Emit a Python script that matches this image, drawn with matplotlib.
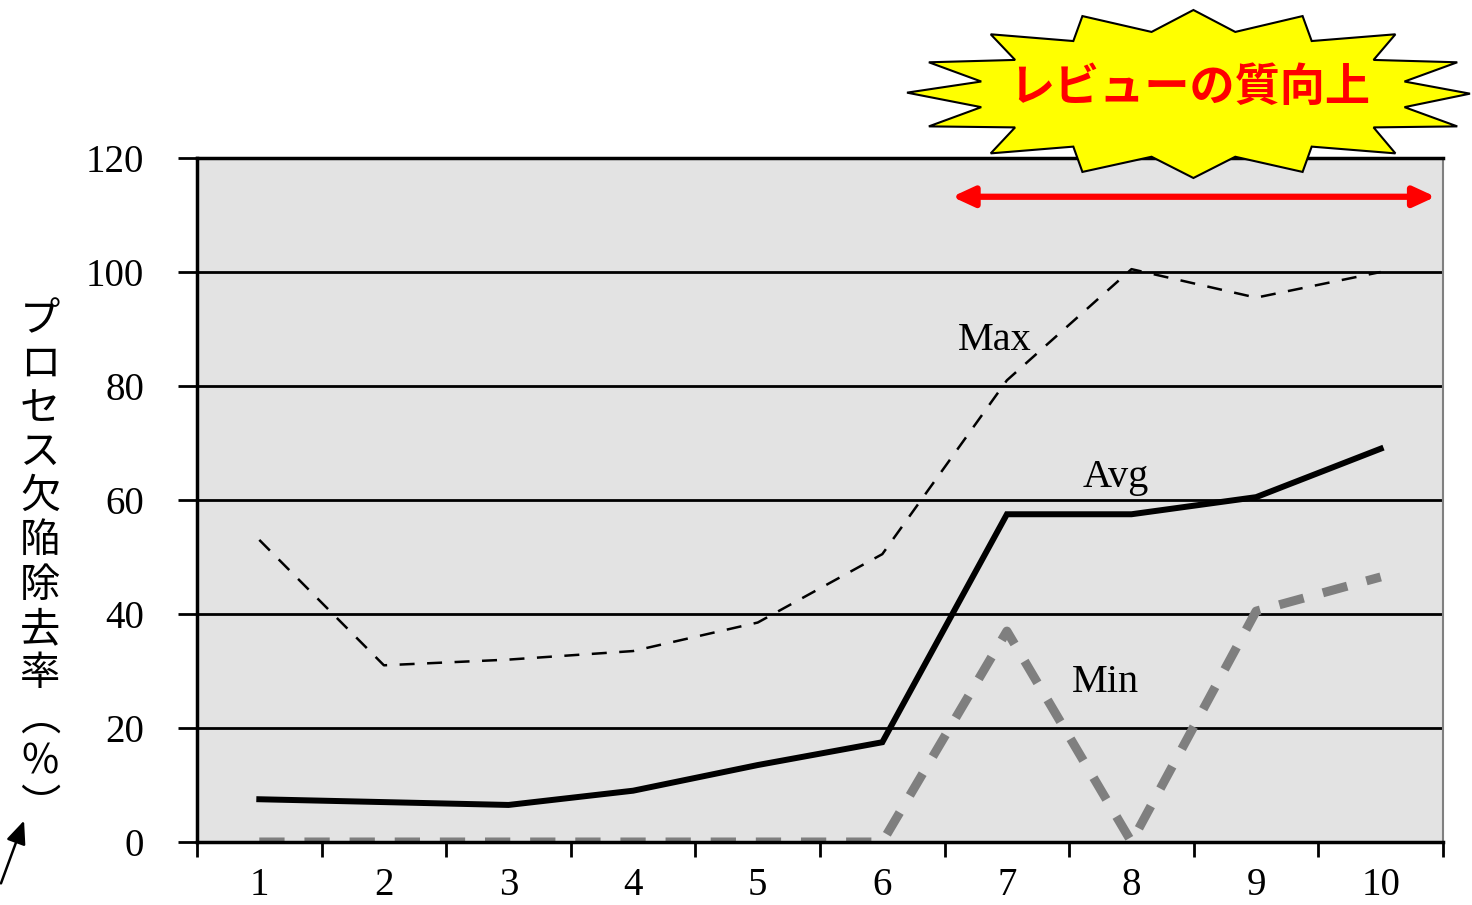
import matplotlib
matplotlib.use('Agg')
import matplotlib.pyplot as plt
from matplotlib.patches import Polygon
import numpy as np

# data
cats = ['1','2','3','4','5','6','7','8','9','10']
max_v = [53, 31, 32, 33.5, 38.5, 50.5, 81, 100.5, 95.5, 100]
avg_v = [7.5, 7, 6.5, 9, 13.5, 17.5, 57.5, 57.5, 60.5, 69]
min_v = [0, 0, 0, 0, 0, 0, 37, 0, 40.5, 46.5]
yticks = [0, 20, 40, 60, 80, 100, 120]
ylabel_chars = ['プ','ロ','セ','ス','欠','陥','除','去','率','︵','%','︶']
banner = 'レビューの質向上'

W, H = 1472, 905
fig = plt.figure(figsize=(W/100, H/100), dpi=100)
ax = fig.add_axes([197/W, 1-842/H, (1443-197)/W, (842-158)/H])
ax.set_facecolor('#e3e3e3')

x = np.arange(1, len(cats)+1)
ax.plot(x, max_v, color='black', lw=1.8, dashes=(6, 5))
ax.plot(x, avg_v, color='black', lw=4.3, solid_joinstyle='miter')
ax.plot(x, min_v, color='#7f7f7f', lw=6.5, dashes=(2.8, 2.2))

ax.set_xlim(0.5, len(cats)+0.5)
ax.set_ylim(0, 120)
for v in yticks[1:-1]:
    ax.axhline(v, color='black', lw=2, zorder=1)

serif = 'Liberation Serif'
ax.set_yticks(yticks)
ax.set_yticklabels([str(v) for v in yticks], family=serif, fontsize=28)
ax.tick_params(axis='y', direction='out', length=14, width=2, pad=24)
ax.set_xticks(np.arange(0.5, len(cats)+1, 1))
ax.set_xticklabels([])
ax.tick_params(axis='x', which='major', direction='out', length=11, width=2)
ax.set_xticks(x, minor=True)
ax.set_xticklabels(cats, minor=True, family=serif, fontsize=28)
ax.tick_params(axis='x', which='minor', length=0, pad=18)

for s in ['left', 'bottom', 'top']:
    ax.spines[s].set_linewidth(2.5)
    ax.spines[s].set_color('black')
ax.spines['right'].set_color('#808080')
ax.spines['right'].set_linewidth(1.5)

ax.text(6.9, 88, 'Max', family=serif, fontsize=29, ha='center', va='center')
ax.text(7.87, 64, 'Avg', family=serif, fontsize=29, ha='center', va='center')
ax.text(7.79, 28, 'Min', family=serif, fontsize=29, ha='center', va='center')

# red double arrow
ax.annotate('', xy=(10.44, 113.2), xytext=(6.56, 113.2),
            arrowprops=dict(arrowstyle='<|-|>,head_length=1.3,head_width=0.6',
                            color='red', lw=4.5, shrinkA=0, shrinkB=0),
            annotation_clip=False)

# starburst
zp = [(805,30),(920,95),(1105,48),(1130,122),(1360,102),(1300,178),(1530,185),
      (1385,242),(1565,278),(1385,318),(1530,375),(1300,378),(1360,455),(1130,435),
      (1105,510),(920,465),(805,528),(690,465),(500,510),(475,435),(248,455),
      (315,378),(78,375),(222,318),(18,275),(222,242),(78,185),(315,178),
      (248,102),(475,122),(500,48),(690,95)]
pts = [((907 + (a-18)/1547*563)/W, 1-(10 + (b-30)/498*168)/H) for a, b in zp]
fig.patches.append(Polygon(pts, closed=True, facecolor='#ffff00', edgecolor='black',
                           lw=1.5, transform=fig.transFigure, zorder=5))
fig.text(1190/W, 1-88/H, banner, color='red', fontsize=32.5, weight='bold',
         family=['Noto Sans CJK JP', 'DejaVu Sans'], ha='center', va='center', zorder=6)

# vertical y label
fig.text(40/W, 1-563/H, '\n'.join(ylabel_chars), fontsize=29, linespacing=1.1,
         family=['Noto Sans CJK JP', 'DejaVu Sans'], ha='center', va='center')

# small arrow bottom-left
fig.patches.append(matplotlib.patches.FancyArrowPatch(
    (0/W, 1-886/H), (25/W, 1-818/H), transform=fig.transFigure,
    arrowstyle='-|>,head_length=14,head_width=6', color='black', lw=1.8))

fig.savefig('out.png', dpi=100)
